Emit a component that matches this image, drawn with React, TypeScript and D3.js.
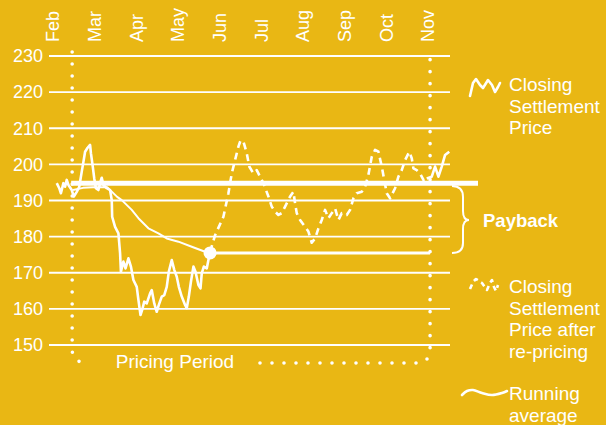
import React from "react";
import * as d3 from "d3";

// month index (0 = Feb) / price pairs
const months = ["Feb", "Mar", "Apr", "May", "Jun", "Jul", "Aug", "Sep", "Oct", "Nov"];
const yTicks = [150, 160, 170, 180, 190, 200, 210, 220, 230];

const closingPrice: [number, number][] = [
  [0.09, 194.8], [0.15, 193.4], [0.19, 192.0], [0.25, 194.8], [0.29, 193.8], [0.33, 195.7],
  [0.37, 194.3], [0.45, 192.9], [0.5, 191.1], [0.57, 192.4], [0.63, 193.8], [0.69, 198.0],
  [0.73, 200.7], [0.77, 203.5], [0.83, 204.6], [0.89, 205.4], [0.91, 203.1], [0.95, 199.8],
  [0.99, 196.1], [1.03, 193.4], [1.09, 192.9], [1.14, 195.2], [1.17, 196.3], [1.21, 194.3],
  [1.29, 193.4], [1.37, 192.9], [1.41, 190.1], [1.42, 185.5], [1.49, 182.7], [1.57, 180.9],
  [1.61, 175.4], [1.63, 170.3], [1.69, 173.1], [1.74, 171.2], [1.81, 174.0], [1.87, 171.7],
  [1.93, 168.0], [2.01, 166.1], [2.05, 162.5], [2.1, 158.3], [2.14, 159.7], [2.19, 162.0],
  [2.25, 161.5], [2.33, 164.3], [2.37, 165.2], [2.43, 161.5], [2.49, 159.2], [2.54, 161.1],
  [2.61, 163.4], [2.67, 163.8], [2.73, 166.1], [2.78, 170.3], [2.85, 173.5], [2.91, 170.8],
  [2.97, 168.9], [3.02, 166.1], [3.09, 163.4], [3.17, 161.1], [3.21, 160.2], [3.26, 163.4],
  [3.31, 167.5], [3.37, 171.7], [3.42, 170.3], [3.49, 166.6], [3.54, 165.7], [3.57, 169.8],
  [3.62, 171.7], [3.69, 171.2], [3.73, 173.5], [3.77, 175.8],
];

const repricedPrice: [number, number][] = [
  [3.77, 175.8], [3.89, 180.4], [4.09, 185.5], [4.21, 192.0], [4.29, 197.5], [4.37, 201.2],
  [4.45, 204.9], [4.5, 206.6], [4.57, 206.3], [4.65, 203.1], [4.71, 199.4], [4.81, 197.5],
  [4.89, 198.4], [4.97, 196.6], [5.05, 194.8], [5.17, 191.1], [5.25, 188.3], [5.33, 186.9],
  [5.41, 186.0], [5.49, 186.5], [5.57, 188.3], [5.69, 191.1], [5.77, 192.4], [5.81, 189.2],
  [5.85, 186.5], [5.93, 184.6], [6.05, 182.7], [6.13, 181.4], [6.21, 178.3], [6.29, 179.5],
  [6.37, 182.3], [6.45, 184.6], [6.53, 187.4], [6.61, 185.1], [6.69, 186.5], [6.77, 187.8],
  [6.85, 184.6], [6.93, 186.5], [7.05, 186.0], [7.13, 187.4], [7.21, 190.6], [7.29, 192.0],
  [7.41, 192.4], [7.49, 193.8], [7.57, 197.1], [7.65, 202.1], [7.73, 204.0], [7.81, 203.5],
  [7.89, 199.4], [7.95, 195.7], [8.01, 192.0], [8.09, 190.6], [8.21, 193.4], [8.29, 196.6],
  [8.37, 198.4], [8.45, 201.2], [8.55, 203.5], [8.61, 201.7], [8.65, 198.9], [8.73, 198.4],
  [8.81, 197.5], [8.89, 195.7], [8.97, 196.1],
];

const closingTail: [number, number][] = [
  [8.97, 196.1], [9.09, 196.6], [9.17, 199.4], [9.25, 196.6], [9.33, 199.4], [9.41, 202.6], [9.51, 203.5],
];

const runningAverage: [number, number][] = [
  [0.48, 192.9], [0.72, 193.5], [0.96, 193.7], [1.3, 193.7], [1.54, 191.0], [1.65, 190.1],
  [1.89, 187.4], [2.05, 185.1], [2.29, 182.3], [2.53, 180.9], [2.73, 179.5], [3.01, 178.6],
  [3.33, 177.2], [3.65, 175.8], [3.77, 175.5],
];

const pricingStart = 0.46;
const pricingEnd = 9.05;
const paybackLevel = 194.8;
const repricePoint: [number, number] = [3.77, 175.5];

const legendSolid: [number, number][] = [[470, 96], [473, 83], [476, 79], [480, 85], [483, 88], [488, 80], [492, 85], [495, 92], [498, 87], [500, 83]];
const legendDashed: [number, number][] = [[470, 289], [473, 282], [476, 279], [482, 283], [487, 290], [490, 283], [492, 280], [494, 287], [496, 291], [498, 285]];
const legendAvg: [number, number][] = [[462, 395], [467, 391], [473, 390], [482, 393], [492, 395], [502, 393], [507, 391]];

const BG = "#E9B714";
const FONT = "'Liberation Sans', Arial, Helvetica, sans-serif";

export default function App() {
  const W = 606;
  const H = 425;
  const x = d3.scaleLinear().domain([0, 9]).range([53, 428]);
  const y = d3.scaleLinear().domain([150, 230]).range([345, 56]);

  const line = d3
    .line<[number, number]>()
    .x((d) => x(d[0]))
    .y((d) => y(d[1]));
  const rawLine = d3.line<[number, number]>();

  const gx0 = 49;
  const gx1 = 450;
  const xs = x(pricingStart);
  const xe = x(pricingEnd);
  const top = y(230) - 4;
  const bottom = 363;

  const leftBracket = `M${xs},${top} V${bottom - 14} Q${xs},${bottom} ${xs + 16},${bottom}`;
  const rightBracket = `M260,${bottom} H${xe - 14} Q${xe},${bottom} ${xe},${bottom - 14} V${top}`;

  const brace = "M452,186 Q463,186 463,197 V211 Q463,220 469,220 Q463,220 463,229 V243 Q463,253 452,253";

  const legendText = (lines: string[], y0: number, bold = false, xPos = 509) =>
    lines.map((t, i) => (
      <text key={t} x={xPos} y={y0 + i * 21.5} fontSize={bold ? 18.5 : 19} fontWeight={bold ? "bold" : "normal"} fill="#fff">
        {t}
      </text>
    ));

  return (
    <svg width={W} height={H} style={{ position: "absolute", left: 0, top: 0, display: "block" }} fontFamily={FONT}>
      <rect width={W} height={H} fill={BG} />

      {/* gridlines and y labels */}
      {yTicks.map((t) => (
        <g key={t}>
          <line x1={gx0} x2={gx1} y1={y(t)} y2={y(t)} stroke="#fff" strokeWidth={1.8} />
          <text x={43} y={y(t)} dy="0.35em" textAnchor="end" fontSize={18} fill="#fff">
            {t}
          </text>
        </g>
      ))}

      {/* month labels */}
      {months.map((m, i) => (
        <text key={m} transform={`translate(${x(i)},42) rotate(-90)`} dy="0.35em" fontSize={18} fill="#fff">
          {m}
        </text>
      ))}

      {/* pricing period bracket */}
      <path d={leftBracket} fill="none" stroke="#fff" strokeWidth={3.6} strokeLinecap="round" strokeDasharray="0 12" />
      <path d={rightBracket} fill="none" stroke="#fff" strokeWidth={3.6} strokeLinecap="round" strokeDasharray="0 12" />
      <text x={175} y={368} textAnchor="middle" fontSize={19} fill="#fff">
        Pricing Period
      </text>

      {/* payback level */}
      <line x1={xs - 1} x2={478} y1={y(paybackLevel)} y2={y(paybackLevel)} stroke="#fff" strokeWidth={5} />
      {/* running average level after repricing */}
      <line x1={x(repricePoint[0])} x2={xe} y1={y(repricePoint[1])} y2={y(repricePoint[1])} stroke="#fff" strokeWidth={3} />

      {/* series */}
      <path d={line(runningAverage) || ""} fill="none" stroke="#fff" strokeWidth={2} strokeLinejoin="round" />
      <path d={line(closingPrice) || ""} fill="none" stroke="#fff" strokeWidth={2.6} strokeLinejoin="round" />
      <path d={line(repricedPrice) || ""} fill="none" stroke="#fff" strokeWidth={2.6} strokeDasharray="7 5" strokeLinejoin="round" />
      <path d={line(closingTail) || ""} fill="none" stroke="#fff" strokeWidth={2.6} strokeLinejoin="round" />
      <circle cx={x(repricePoint[0])} cy={y(repricePoint[1])} r={6.5} fill="#fff" />

      {/* legend */}
      <path d={rawLine.curve(d3.curveLinear)(legendSolid) || ""} fill="none" stroke="#fff" strokeWidth={2.6} strokeLinejoin="round" strokeLinecap="round" />
      {legendText(["Closing", "Settlement", "Price"], 91)}
      <path d={brace} fill="none" stroke="#fff" strokeWidth={2} />
      {legendText(["Payback"], 227, true, 483)}
      <path d={rawLine.curve(d3.curveLinear)(legendDashed) || ""} fill="none" stroke="#fff" strokeWidth={2.6} strokeDasharray="5 4" strokeLinejoin="round" />
      {legendText(["Closing", "Settlement", "Price after", "re-pricing"], 293)}
      <path d={rawLine.curve(d3.curveCatmullRom)(legendAvg) || ""} fill="none" stroke="#fff" strokeWidth={2.6} strokeLinecap="round" />
      {legendText(["Running", "average"], 400)}
    </svg>
  );
}
